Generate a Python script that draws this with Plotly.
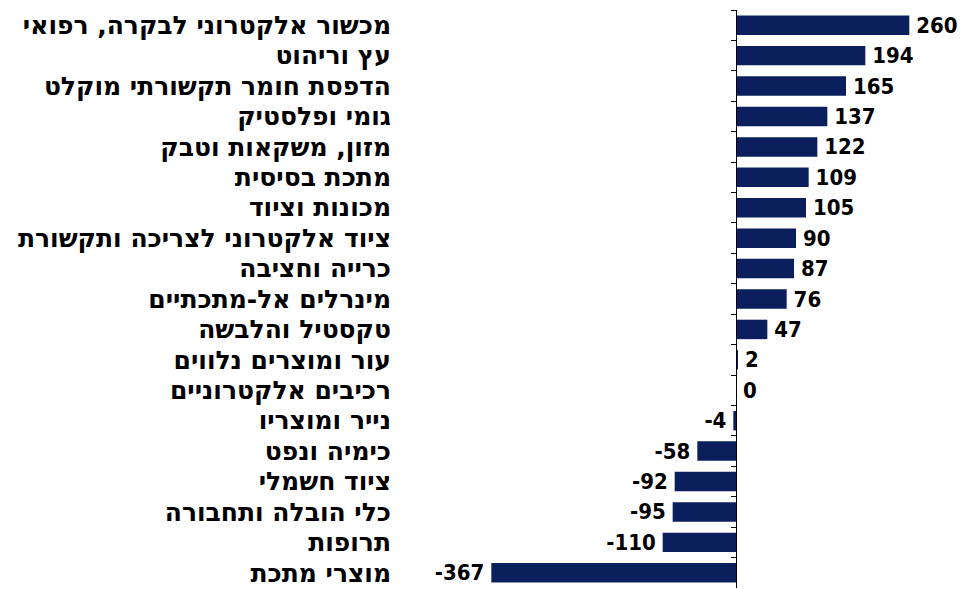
import plotly.graph_objects as go

categories = [
    "מכשור אלקטרוני לבקרה, רפואי",
    "עץ וריהוט",
    "הדפסת חומר תקשורתי מוקלט",
    "גומי ופלסטיק",
    "מזון, משקאות וטבק",
    "מתכת בסיסית",
    "מכונות וציוד",
    "ציוד אלקטרוני לצריכה ותקשורת",
    "כרייה וחציבה",
    "מינרלים אל-מתכתיים",
    "טקסטיל והלבשה",
    "עור ומוצרים נלווים",
    "רכיבים אלקטרוניים",
    "נייר ומוצריו",
    "כימיה ונפט",
    "ציוד חשמלי",
    "כלי הובלה ותחבורה",
    "תרופות",
    "מוצרי מתכת",
]
values = [260, 194, 165, 137, 122, 109, 105, 90, 87, 76, 47, 2, 0, -4, -58, -92, -95, -110, -367]

XMIN, XMAX = -504, 330
BAR_COLOR = "#0a1f5c"
GAP = "\u2009"
labels = [f"{GAP}{v}" if v >= 0 else f"{v}{GAP}" for v in values]

fig = go.Figure()
fig.add_trace(go.Bar(
    x=values, y=categories, orientation="h",
    marker=dict(color=BAR_COLOR, line=dict(width=0)),
    text=labels, textposition="outside", constraintext="none",
    textfont=dict(family="DejaVu Sans Condensed", size=22, color="black", weight="bold"),
    cliponaxis=False, showlegend=False, hoverinfo="skip",
))
fig.add_trace(go.Scatter(
    x=values, y=categories, yaxis="y2", mode="markers",
    marker=dict(opacity=0), showlegend=False, hoverinfo="skip",
))

n = len(categories)
zero_pos = (0 - XMIN) / (XMAX - XMIN)

fig.update_layout(
    width=961, height=589,
    margin=dict(l=400, r=5, t=10, b=1),
    paper_bgcolor="white", plot_bgcolor="white",
    bargap=0.36,
    xaxis=dict(range=[XMIN, XMAX], domain=[0, 1], visible=False, showgrid=False,
               zeroline=False, automargin=False),
    yaxis=dict(
        type="category", categoryorder="array", categoryarray=categories,
        range=[n - 0.5, -0.5], showgrid=False, zeroline=False, showline=False,
        ticks="", ticklabelstandoff=8, automargin=False,
        tickfont=dict(family="DejaVu Sans", size=25, color="black", weight="bold"),
    ),
    yaxis2=dict(
        type="category", categoryorder="array", categoryarray=categories,
        range=[n - 0.5, -0.5], overlaying="y", anchor="free", position=zero_pos,
        side="left", showticklabels=False, showgrid=False, zeroline=False,
        showline=True, linecolor="black", linewidth=1, automargin=False,
        ticks="outside", tickson="boundaries", ticklen=5, tickcolor="black", tickwidth=1,
    ),
)

fig.write_html(
    "out.html",
    config={"displayModeBar": False},
    post_script="document.body.style.margin='0';document.body.style.overflow='hidden';",
)
